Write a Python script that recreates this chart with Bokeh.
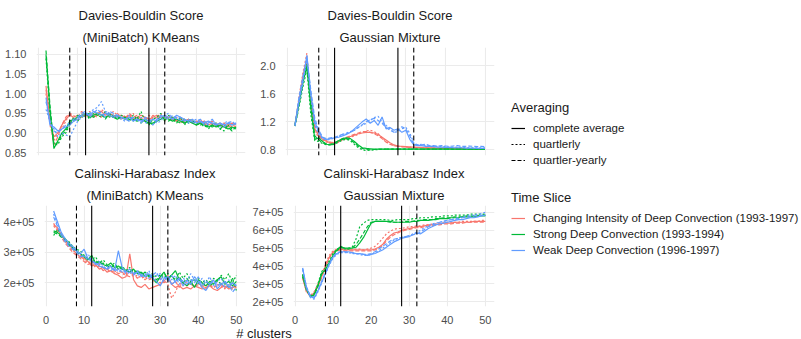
from bokeh.plotting import figure
from bokeh.models import Range1d, FixedTicker, Grid, Span, Title, Legend, LegendItem, Label
from bokeh.layouts import row, column
from bokeh.embed import file_html
from bokeh.resources import INLINE

# ---------------- data ----------------
clusters = list(range(2, 51))

time_slices = ["Changing Intensity of Deep Convection (1993-1997)",
               "Strong Deep Convection (1993-1994)",
               "Weak Deep Convection (1996-1997)"]
averagings = ["complete average", "quartlerly", "quartler-yearly"]

x_ticks = [0, 10, 20, 30, 40, 50]
x_tick_labels = ["0", "10", "20", "30", "40", "50"]
vline_solid = [12, 28]
vline_dashed = [8, 32]

# Davies-Bouldin Score, (MiniBatch) KMeans
db_km_chg_avg = [1.02, 0.93, 0.89, 0.90, 0.92, 0.935, 0.945, 0.94, 0.945, 0.94,
                 0.95, 0.945, 0.94, 0.95, 0.955, 0.945, 0.95, 0.945, 0.94, 0.945,
                 0.94, 0.945, 0.935, 0.94, 0.945, 0.94, 0.935, 0.94, 0.945, 0.94,
                 0.935, 0.94, 0.935, 0.93, 0.935, 0.93, 0.935, 0.925, 0.93, 0.925,
                 0.93, 0.92, 0.925, 0.92, 0.925, 0.915, 0.92, 0.925, 0.92]
db_km_chg_q = [1.00, 0.92, 0.88, 0.90, 0.91, 0.93, 0.95, 0.945, 0.93, 0.95,
               0.94, 0.955, 0.945, 0.94, 0.96, 0.95, 0.94, 0.955, 0.945, 0.935,
               0.945, 0.94, 0.95, 0.935, 0.94, 0.93, 0.945, 0.935, 0.94, 0.95,
               0.93, 0.945, 0.93, 0.94, 0.925, 0.935, 0.93, 0.935, 0.92, 0.93,
               0.925, 0.93, 0.92, 0.925, 0.915, 0.925, 0.92, 0.915, 0.925]
db_km_chg_qy = [1.01, 0.94, 0.87, 0.89, 0.92, 0.94, 0.95, 0.935, 0.94, 0.955,
                0.945, 0.94, 0.95, 0.945, 0.94, 0.955, 0.945, 0.94, 0.95, 0.94,
                0.935, 0.95, 0.94, 0.945, 0.935, 0.94, 0.93, 0.945, 0.94, 0.935,
                0.945, 0.935, 0.94, 0.93, 0.94, 0.925, 0.935, 0.93, 0.925, 0.935,
                0.92, 0.925, 0.93, 0.915, 0.92, 0.925, 0.915, 0.92, 0.915]
db_km_str_avg = [1.10, 0.96, 0.86, 0.88, 0.90, 0.91, 0.93, 0.935, 0.94, 0.945,
                 0.95, 0.94, 0.945, 0.95, 0.945, 0.94, 0.945, 0.94, 0.935, 0.94,
                 0.935, 0.94, 0.935, 0.93, 0.935, 0.93, 0.925, 0.925, 0.93, 0.935,
                 0.94, 0.935, 0.93, 0.935, 0.93, 0.925, 0.93, 0.925, 0.92, 0.925,
                 0.92, 0.915, 0.92, 0.915, 0.92, 0.915, 0.91, 0.915, 0.91]
db_km_str_q = [1.09, 0.95, 0.87, 0.87, 0.89, 0.90, 0.92, 0.94, 0.93, 0.945,
               0.95, 0.935, 0.95, 0.945, 0.94, 0.955, 0.94, 0.945, 0.935, 0.945,
               0.94, 0.93, 0.945, 0.935, 0.955, 0.93, 0.92, 0.935, 0.94, 0.95,
               0.93, 0.945, 0.935, 0.925, 0.94, 0.92, 0.935, 0.93, 0.925, 0.92,
               0.925, 0.91, 0.92, 0.925, 0.91, 0.905, 0.92, 0.91, 0.915]
db_km_str_qy = [1.11, 0.97, 0.87, 0.875, 0.895, 0.905, 0.925, 0.93, 0.945, 0.94,
                0.945, 0.95, 0.94, 0.945, 0.95, 0.935, 0.95, 0.94, 0.945, 0.935,
                0.94, 0.935, 0.93, 0.94, 0.925, 0.935, 0.93, 0.92, 0.935, 0.94,
                0.935, 0.93, 0.94, 0.93, 0.925, 0.935, 0.925, 0.93, 0.92, 0.925,
                0.915, 0.92, 0.915, 0.92, 0.91, 0.92, 0.915, 0.905, 0.915]
db_km_wk_avg = [0.99, 0.92, 0.915, 0.905, 0.91, 0.915, 0.92, 0.93, 0.935, 0.945,
                0.95, 0.945, 0.955, 0.95, 0.945, 0.95, 0.945, 0.94, 0.945, 0.94,
                0.935, 0.94, 0.93, 0.935, 0.93, 0.935, 0.93, 0.935, 0.93, 0.94,
                0.945, 0.94, 0.935, 0.945, 0.94, 0.935, 0.93, 0.935, 0.925, 0.93,
                0.925, 0.93, 0.925, 0.92, 0.925, 0.92, 0.925, 0.92, 0.925]
db_km_wk_q = [0.96, 0.93, 0.91, 0.89, 0.90, 0.895, 0.89, 0.91, 0.93, 0.94,
              0.945, 0.95, 0.96, 0.965, 0.98, 0.955, 0.95, 0.945, 0.94, 0.935,
              0.93, 0.945, 0.935, 0.93, 0.94, 0.925, 0.93, 0.935, 0.925, 0.93,
              0.945, 0.95, 0.935, 0.94, 0.93, 0.935, 0.925, 0.93, 0.935, 0.925,
              0.93, 0.92, 0.93, 0.925, 0.915, 0.925, 0.93, 0.92, 0.925]
db_km_wk_qy = [0.98, 0.93, 0.905, 0.90, 0.91, 0.92, 0.925, 0.935, 0.94, 0.95,
               0.955, 0.94, 0.95, 0.96, 0.95, 0.94, 0.955, 0.95, 0.945, 0.94,
               0.935, 0.93, 0.94, 0.935, 0.925, 0.94, 0.935, 0.92, 0.935, 0.945,
               0.94, 0.935, 0.945, 0.935, 0.94, 0.93, 0.935, 0.925, 0.93, 0.935,
               0.92, 0.925, 0.935, 0.92, 0.925, 0.915, 0.925, 0.93, 0.92]

# Davies-Bouldin Score, Gaussian Mixture
db_gm_chg_avg = [1.15, 1.50, 1.85, 2.10, 1.50, 1.10, 1.00, 0.95, 0.92, 0.90,
                 0.90, 0.92, 0.95, 0.97, 0.99, 1.01, 1.03, 1.04, 1.05, 1.05,
                 1.04, 1.02, 0.98, 0.94, 0.90, 0.87, 0.855, 0.85, 0.845, 0.84,
                 0.84, 0.835, 0.835, 0.83, 0.83, 0.83, 0.825, 0.825, 0.825, 0.82,
                 0.82, 0.82, 0.82, 0.82, 0.815, 0.815, 0.815, 0.815, 0.815]
db_gm_chg_q = [1.14, 1.55, 1.90, 2.18, 1.45, 1.05, 0.98, 0.94, 0.91, 0.89,
               0.88, 0.91, 0.94, 0.96, 0.98, 1.00, 1.02, 1.05, 1.07, 1.08,
               1.06, 1.03, 0.97, 0.92, 0.88, 0.86, 0.85, 0.845, 0.84, 0.84,
               0.835, 0.83, 0.83, 0.83, 0.825, 0.825, 0.82, 0.82, 0.82, 0.82,
               0.815, 0.815, 0.815, 0.815, 0.81, 0.81, 0.81, 0.81, 0.81]
db_gm_chg_qy = [1.16, 1.45, 1.80, 2.05, 1.55, 1.15, 1.02, 0.96, 0.93, 0.91,
                0.90, 0.93, 0.96, 0.98, 1.00, 1.02, 1.04, 1.06, 1.06, 1.05,
                1.03, 1.00, 0.96, 0.91, 0.88, 0.86, 0.85, 0.845, 0.84, 0.835,
                0.835, 0.83, 0.83, 0.825, 0.825, 0.825, 0.82, 0.82, 0.82, 0.82,
                0.82, 0.815, 0.815, 0.815, 0.815, 0.81, 0.81, 0.81, 0.81]
db_gm_str_avg = [1.15, 1.45, 1.75, 2.00, 1.40, 0.95, 0.97, 0.92, 0.88, 0.87,
                 0.89, 0.93, 0.96, 0.97, 0.96, 0.92, 0.87, 0.83, 0.82, 0.815,
                 0.81, 0.81, 0.81, 0.81, 0.81, 0.81, 0.81, 0.81, 0.81, 0.81,
                 0.81, 0.81, 0.81, 0.81, 0.81, 0.81, 0.81, 0.81, 0.81, 0.81,
                 0.81, 0.81, 0.81, 0.81, 0.81, 0.81, 0.81, 0.81, 0.81]
db_gm_str_q = [1.14, 1.40, 1.70, 1.95, 1.30, 0.93, 0.92, 0.89, 0.87, 0.87,
               0.88, 0.91, 0.94, 0.95, 0.93, 0.88, 0.83, 0.80, 0.79, 0.795,
               0.80, 0.805, 0.805, 0.81, 0.81, 0.81, 0.81, 0.81, 0.81, 0.81,
               0.81, 0.81, 0.81, 0.81, 0.81, 0.81, 0.81, 0.81, 0.81, 0.81,
               0.81, 0.81, 0.81, 0.81, 0.81, 0.81, 0.81, 0.81, 0.81]
db_gm_str_qy = [1.16, 1.48, 1.78, 2.02, 1.50, 1.00, 0.94, 0.90, 0.88, 0.88,
                0.90, 0.93, 0.95, 0.96, 0.94, 0.90, 0.85, 0.82, 0.805, 0.80,
                0.805, 0.81, 0.81, 0.81, 0.81, 0.81, 0.81, 0.81, 0.81, 0.81,
                0.81, 0.81, 0.81, 0.81, 0.81, 0.81, 0.81, 0.81, 0.81, 0.81,
                0.81, 0.81, 0.81, 0.81, 0.81, 0.81, 0.81, 0.81, 0.81]
db_gm_wk_avg = [1.15, 1.50, 1.80, 2.15, 1.60, 1.20, 1.05, 0.97, 0.95, 0.96,
                0.97, 0.98, 1.00, 1.02, 1.05, 1.10, 1.15, 1.20, 1.24, 1.18,
                1.22, 1.15, 1.27, 1.10, 1.12, 1.08, 1.10, 1.05, 1.08, 0.95,
                0.87, 0.86, 0.86, 0.85, 0.85, 0.845, 0.84, 0.84, 0.835, 0.835,
                0.83, 0.83, 0.83, 0.825, 0.825, 0.825, 0.82, 0.82, 0.82]
db_gm_wk_q = [1.14, 1.45, 1.75, 2.10, 1.55, 1.15, 1.02, 0.96, 0.94, 0.95,
              0.97, 0.99, 1.02, 1.04, 1.06, 1.08, 1.12, 1.15, 1.18, 1.22,
              1.26, 1.28, 1.20, 1.15, 1.10, 1.05, 1.06, 1.10, 1.12, 1.04,
              0.90, 0.87, 0.88, 0.86, 0.855, 0.85, 0.85, 0.845, 0.845, 0.84,
              0.84, 0.84, 0.835, 0.835, 0.83, 0.83, 0.83, 0.83, 0.83]
db_gm_wk_qy = [1.16, 1.55, 1.85, 2.12, 1.65, 1.25, 1.08, 0.98, 0.96, 0.97,
               0.98, 1.00, 1.02, 1.03, 1.05, 1.08, 1.12, 1.16, 1.20, 1.23,
               1.25, 1.22, 1.18, 1.12, 1.08, 1.05, 1.08, 1.13, 1.10, 1.00,
               0.88, 0.87, 0.87, 0.88, 0.86, 0.86, 0.85, 0.86, 0.855, 0.85,
               0.855, 0.86, 0.85, 0.85, 0.855, 0.85, 0.845, 0.85, 0.845]

# Calinski-Harabasz Index, (MiniBatch) KMeans
ch_km_chg_avg = [3.90e5, 3.80e5, 3.55e5, 3.40e5, 3.25e5, 3.10e5, 2.95e5, 2.85e5, 2.80e5, 2.70e5,
                 2.55e5, 2.60e5, 2.45e5, 2.50e5, 2.35e5, 2.40e5, 2.30e5, 2.25e5, 2.15e5, 2.20e5,
                 2.95e5, 2.10e5, 1.90e5, 1.85e5, 1.95e5, 1.80e5, 1.85e5, 1.90e5, 1.95e5, 2.05e5,
                 2.25e5, 1.95e5, 1.85e5, 1.90e5, 1.80e5, 1.85e5, 1.80e5, 1.90e5, 1.85e5, 1.80e5,
                 1.85e5, 1.90e5, 1.80e5, 1.75e5, 1.85e5, 1.90e5, 1.80e5, 1.85e5, 1.90e5]
ch_km_chg_q = [3.85e5, 3.75e5, 3.60e5, 3.35e5, 3.20e5, 3.05e5, 3.00e5, 2.90e5, 2.75e5, 2.65e5,
               2.70e5, 2.55e5, 2.60e5, 2.45e5, 2.50e5, 2.40e5, 2.35e5, 2.45e5, 2.30e5, 2.25e5,
               2.35e5, 2.20e5, 2.25e5, 2.15e5, 2.20e5, 2.10e5, 2.15e5, 2.05e5, 2.00e5, 2.10e5,
               1.95e5, 1.50e5, 1.70e5, 2.00e5, 1.90e5, 2.05e5, 1.95e5, 1.90e5, 2.00e5, 1.85e5,
               1.95e5, 1.90e5, 1.85e5, 1.95e5, 1.90e5, 1.80e5, 1.95e5, 1.85e5, 1.90e5]
ch_km_chg_qy = [3.95e5, 3.70e5, 3.50e5, 3.30e5, 3.15e5, 3.00e5, 2.90e5, 2.80e5, 2.70e5, 2.60e5,
                2.65e5, 2.50e5, 2.55e5, 2.40e5, 2.45e5, 2.35e5, 2.40e5, 2.30e5, 2.35e5, 2.25e5,
                2.20e5, 2.30e5, 2.15e5, 2.25e5, 2.10e5, 2.20e5, 2.05e5, 2.10e5, 2.15e5, 2.00e5,
                2.10e5, 1.95e5, 2.05e5, 1.85e5, 2.00e5, 1.90e5, 2.00e5, 1.85e5, 1.95e5, 1.90e5,
                1.80e5, 1.95e5, 1.85e5, 1.90e5, 1.95e5, 1.85e5, 1.90e5, 1.80e5, 1.85e5]
ch_km_str_avg = [3.70e5, 3.65e5, 3.55e5, 3.45e5, 3.30e5, 3.15e5, 3.05e5, 2.95e5, 2.85e5, 2.75e5,
                 2.90e5, 2.65e5, 2.70e5, 2.60e5, 2.55e5, 2.65e5, 2.50e5, 2.55e5, 2.45e5, 2.40e5,
                 2.35e5, 2.45e5, 2.30e5, 2.35e5, 2.20e5, 2.25e5, 2.15e5, 2.00e5, 2.20e5, 2.35e5,
                 2.10e5, 2.25e5, 2.40e5, 2.10e5, 2.00e5, 1.90e5, 2.05e5, 1.85e5, 2.10e5, 2.00e5,
                 1.90e5, 2.05e5, 1.95e5, 2.10e5, 2.20e5, 1.95e5, 2.05e5, 1.90e5, 2.05e5]
ch_km_str_q = [3.55e5, 3.75e5, 3.60e5, 3.40e5, 3.35e5, 3.20e5, 3.10e5, 3.05e5, 2.90e5, 2.80e5,
               2.75e5, 2.85e5, 2.65e5, 2.75e5, 2.60e5, 2.55e5, 2.65e5, 2.45e5, 2.55e5, 2.40e5,
               2.50e5, 2.35e5, 2.40e5, 2.30e5, 2.35e5, 2.25e5, 2.30e5, 2.20e5, 2.25e5, 2.15e5,
               2.30e5, 2.20e5, 2.10e5, 2.35e5, 2.15e5, 2.30e5, 2.10e5, 2.05e5, 2.15e5, 2.00e5,
               2.10e5, 1.95e5, 2.15e5, 2.05e5, 2.25e5, 2.10e5, 2.30e5, 2.00e5, 2.25e5]
ch_km_str_qy = [3.65e5, 3.60e5, 3.50e5, 3.40e5, 3.25e5, 3.15e5, 3.00e5, 2.95e5, 2.85e5, 2.80e5,
                2.70e5, 2.75e5, 2.60e5, 2.65e5, 2.55e5, 2.50e5, 2.60e5, 2.45e5, 2.50e5, 2.40e5,
                2.45e5, 2.30e5, 2.40e5, 2.25e5, 2.35e5, 2.20e5, 2.25e5, 2.10e5, 2.20e5, 2.30e5,
                2.15e5, 2.25e5, 2.05e5, 2.20e5, 2.00e5, 2.15e5, 1.95e5, 2.10e5, 2.00e5, 1.90e5,
                2.05e5, 1.90e5, 2.00e5, 2.10e5, 1.95e5, 2.05e5, 1.85e5, 2.15e5, 1.75e5]
ch_km_wk_avg = [4.35e5, 4.00e5, 3.65e5, 3.45e5, 3.30e5, 3.20e5, 3.05e5, 2.95e5, 3.10e5, 2.80e5,
                2.70e5, 2.65e5, 2.55e5, 2.50e5, 2.45e5, 2.55e5, 2.40e5, 3.05e5, 2.50e5, 2.35e5,
                2.45e5, 2.30e5, 2.35e5, 2.25e5, 2.20e5, 2.30e5, 2.15e5, 2.05e5, 1.90e5, 2.15e5,
                2.20e5, 1.95e5, 2.05e5, 2.15e5, 1.90e5, 2.10e5, 1.95e5, 2.20e5, 2.05e5, 1.85e5,
                1.75e5, 1.95e5, 2.10e5, 1.80e5, 1.95e5, 2.05e5, 1.85e5, 2.00e5, 1.90e5]
ch_km_wk_q = [4.25e5, 3.90e5, 3.60e5, 3.40e5, 3.25e5, 3.15e5, 3.05e5, 2.95e5, 2.85e5, 2.95e5,
              2.75e5, 2.60e5, 2.70e5, 2.55e5, 2.45e5, 2.50e5, 2.40e5, 2.45e5, 2.35e5, 2.40e5,
              2.30e5, 2.35e5, 2.25e5, 2.30e5, 2.20e5, 2.40e5, 2.15e5, 2.25e5, 2.30e5, 2.05e5,
              2.20e5, 2.10e5, 2.25e5, 1.95e5, 2.15e5, 2.05e5, 2.30e5, 2.10e5, 1.95e5, 2.15e5,
              2.00e5, 2.20e5, 1.90e5, 2.05e5, 2.15e5, 1.95e5, 2.10e5, 1.85e5, 1.95e5]
ch_km_wk_qy = [4.15e5, 3.85e5, 3.55e5, 3.35e5, 3.20e5, 3.10e5, 3.00e5, 2.85e5, 2.90e5, 2.75e5,
               2.80e5, 2.60e5, 2.65e5, 2.50e5, 2.55e5, 2.40e5, 2.50e5, 2.35e5, 2.45e5, 2.30e5,
               2.35e5, 2.25e5, 2.40e5, 2.20e5, 2.30e5, 2.15e5, 2.25e5, 2.35e5, 2.10e5, 2.20e5,
               2.05e5, 2.25e5, 2.00e5, 2.15e5, 2.05e5, 1.95e5, 2.10e5, 2.00e5, 2.20e5, 1.90e5,
               2.05e5, 1.95e5, 2.10e5, 1.90e5, 2.00e5, 1.85e5, 1.95e5, 1.70e5, 1.85e5]

# Calinski-Harabasz Index, Gaussian Mixture
ch_gm_chg_avg = [3.40e5, 2.60e5, 2.30e5, 2.50e5, 2.90e5, 3.40e5, 4.00e5, 4.50e5, 4.80e5, 4.90e5,
                 4.95e5, 4.90e5, 4.90e5, 4.90e5, 4.90e5, 4.90e5, 4.90e5, 4.90e5, 4.90e5, 4.95e5,
                 5.05e5, 5.20e5, 5.50e5, 5.70e5, 5.85e5, 5.90e5, 6.00e5, 6.05e5, 6.10e5, 6.15e5,
                 6.20e5, 6.20e5, 6.25e5, 6.30e5, 6.30e5, 6.35e5, 6.35e5, 6.40e5, 6.40e5, 6.40e5,
                 6.45e5, 6.45e5, 6.45e5, 6.45e5, 6.45e5, 6.50e5, 6.50e5, 6.50e5, 6.50e5]
ch_gm_chg_q = [3.30e5, 2.55e5, 2.35e5, 2.55e5, 3.00e5, 3.50e5, 4.10e5, 4.60e5, 4.85e5, 4.95e5,
               5.00e5, 4.95e5, 4.95e5, 4.95e5, 4.95e5, 4.95e5, 4.90e5, 4.95e5, 5.00e5, 5.10e5,
               5.30e5, 5.55e5, 5.80e5, 5.95e5, 6.05e5, 6.10e5, 6.10e5, 6.15e5, 6.20e5, 6.20e5,
               6.25e5, 6.25e5, 6.30e5, 6.30e5, 6.35e5, 6.35e5, 6.40e5, 6.40e5, 6.45e5, 6.45e5,
               6.45e5, 6.45e5, 6.50e5, 6.50e5, 6.50e5, 6.50e5, 6.50e5, 6.55e5, 6.55e5]
ch_gm_chg_qy = [3.50e5, 2.65e5, 2.30e5, 2.45e5, 2.85e5, 3.35e5, 3.95e5, 4.45e5, 4.75e5, 4.85e5,
                4.90e5, 4.85e5, 4.85e5, 4.85e5, 4.85e5, 4.85e5, 4.85e5, 4.85e5, 4.85e5, 4.90e5,
                5.00e5, 5.15e5, 5.40e5, 5.60e5, 5.75e5, 5.85e5, 5.95e5, 6.00e5, 6.05e5, 6.10e5,
                6.15e5, 6.15e5, 6.20e5, 6.25e5, 6.25e5, 6.30e5, 6.30e5, 6.35e5, 6.35e5, 6.35e5,
                6.40e5, 6.40e5, 6.40e5, 6.45e5, 6.45e5, 6.45e5, 6.45e5, 6.45e5, 6.45e5]
ch_gm_str_avg = [3.50e5, 2.70e5, 2.30e5, 2.40e5, 2.90e5, 3.60e5, 3.80e5, 4.20e5, 4.60e5, 4.90e5,
                 5.10e5, 5.00e5, 5.00e5, 5.00e5, 5.05e5, 5.30e5, 5.60e5, 6.00e5, 6.40e5, 6.50e5,
                 6.50e5, 6.50e5, 6.50e5, 6.50e5, 6.45e5, 6.45e5, 6.45e5, 6.45e5, 6.45e5, 6.50e5,
                 6.50e5, 6.55e5, 6.55e5, 6.55e5, 6.60e5, 6.60e5, 6.65e5, 6.65e5, 6.65e5, 6.70e5,
                 6.70e5, 6.70e5, 6.75e5, 6.75e5, 6.75e5, 6.75e5, 6.80e5, 6.80e5, 6.80e5]
ch_gm_str_q = [3.40e5, 2.65e5, 2.35e5, 2.45e5, 3.00e5, 3.70e5, 3.90e5, 4.30e5, 4.70e5, 4.95e5,
               5.05e5, 4.95e5, 5.00e5, 5.05e5, 5.50e5, 6.20e5, 6.40e5, 6.55e5, 6.60e5, 6.60e5,
               6.60e5, 6.60e5, 6.60e5, 6.55e5, 6.55e5, 6.60e5, 6.60e5, 6.60e5, 6.60e5, 6.65e5,
               6.65e5, 6.70e5, 6.70e5, 6.70e5, 6.75e5, 6.75e5, 6.75e5, 6.80e5, 6.80e5, 6.80e5,
               6.85e5, 6.85e5, 6.85e5, 6.85e5, 6.90e5, 6.90e5, 6.90e5, 6.90e5, 6.90e5]
ch_gm_str_qy = [3.55e5, 2.75e5, 2.30e5, 2.35e5, 2.85e5, 3.55e5, 3.75e5, 4.15e5, 4.55e5, 4.85e5,
                5.05e5, 5.00e5, 4.95e5, 5.00e5, 5.20e5, 5.50e5, 5.85e5, 6.20e5, 6.45e5, 6.50e5,
                6.50e5, 6.50e5, 6.50e5, 6.45e5, 6.45e5, 6.45e5, 6.45e5, 6.50e5, 6.50e5, 6.50e5,
                6.55e5, 6.55e5, 6.60e5, 6.60e5, 6.60e5, 6.65e5, 6.65e5, 6.70e5, 6.70e5, 6.70e5,
                6.75e5, 6.75e5, 6.75e5, 6.80e5, 6.80e5, 6.80e5, 6.80e5, 6.85e5, 6.85e5]
ch_gm_wk_avg = [3.90e5, 2.80e5, 2.30e5, 2.20e5, 2.60e5, 3.10e5, 3.60e5, 4.10e5, 4.50e5, 4.70e5,
                4.80e5, 4.80e5, 4.80e5, 4.75e5, 4.70e5, 4.70e5, 4.65e5, 4.60e5, 4.65e5, 4.70e5,
                4.80e5, 4.90e5, 5.05e5, 5.20e5, 5.35e5, 5.45e5, 5.55e5, 5.60e5, 5.65e5, 5.75e5,
                5.85e5, 5.80e5, 5.95e5, 6.10e5, 6.20e5, 6.30e5, 6.35e5, 6.40e5, 6.45e5, 6.50e5,
                6.55e5, 6.60e5, 6.60e5, 6.65e5, 6.70e5, 6.70e5, 6.75e5, 6.80e5, 6.85e5]
ch_gm_wk_q = [3.80e5, 2.75e5, 2.25e5, 2.15e5, 2.55e5, 3.05e5, 3.55e5, 4.05e5, 4.45e5, 4.65e5,
              4.75e5, 4.75e5, 4.75e5, 4.70e5, 4.70e5, 4.65e5, 4.60e5, 4.60e5, 4.65e5, 4.75e5,
              4.85e5, 5.00e5, 5.15e5, 5.30e5, 5.45e5, 5.55e5, 5.60e5, 5.65e5, 5.70e5, 5.80e5,
              5.90e5, 6.00e5, 6.15e5, 6.25e5, 6.35e5, 6.40e5, 6.45e5, 6.50e5, 6.55e5, 6.60e5,
              6.65e5, 6.70e5, 6.75e5, 6.80e5, 6.85e5, 6.85e5, 6.90e5, 6.95e5, 7.00e5]
ch_gm_wk_qy = [3.85e5, 2.85e5, 2.35e5, 2.25e5, 2.65e5, 3.15e5, 3.65e5, 4.15e5, 4.55e5, 4.75e5,
               4.80e5, 4.80e5, 4.75e5, 4.75e5, 4.70e5, 4.70e5, 4.65e5, 4.65e5, 4.70e5, 4.80e5,
               4.95e5, 5.10e5, 5.25e5, 5.40e5, 5.50e5, 5.55e5, 5.60e5, 5.65e5, 5.70e5, 5.75e5,
               5.80e5, 5.90e5, 6.05e5, 6.20e5, 6.30e5, 6.35e5, 6.45e5, 6.50e5, 6.55e5, 6.60e5,
               6.60e5, 6.65e5, 6.70e5, 6.75e5, 6.75e5, 6.80e5, 6.80e5, 6.85e5, 6.85e5]

db_km_ticks = [0.85, 0.90, 0.95, 1.00, 1.05, 1.10]
db_km_tick_labels = ["0.85", "0.90", "0.95", "1.00", "1.05", "1.10"]
db_gm_ticks = [0.8, 1.2, 1.6, 2.0]
db_gm_tick_labels = ["0.8", "1.2", "1.6", "2.0"]
ch_km_ticks = [2e5, 3e5, 4e5]
ch_km_tick_labels = ["2e+05", "3e+05", "4e+05"]
ch_gm_ticks = [2e5, 3e5, 4e5, 5e5, 6e5, 7e5]
ch_gm_tick_labels = ["2e+05", "3e+05", "4e+05", "5e+05", "6e+05", "7e+05"]

# ---------------- style ----------------
FONT = "Liberation Sans"
slice_colors = ["#F8766D", "#00BA38", "#619CFF"]
avg_dashes = ["solid", "2 2", "4 2"]
GRID = "#EBEBEB"
X_RANGE = (-0.4, 52.4)


def make_panel(metric, method, series, y_range, yticks, ylabels, show_x,
               width, height, mb_left, mb_right, mb_top, mb_bottom):
    p = figure(width=width, height=height, title=None,
               x_range=Range1d(*X_RANGE), y_range=Range1d(*y_range),
               x_axis_location="below" if show_x else None,
               output_backend="svg", toolbar_location=None,
               min_border_left=mb_left, min_border_right=mb_right,
               min_border_top=mb_top, min_border_bottom=mb_bottom,
               outline_line_color=None)
    p.grid.visible = False
    p.add_layout(Grid(dimension=0, ticker=FixedTicker(ticks=x_ticks),
                      grid_line_color=GRID, grid_line_width=1.1))
    p.add_layout(Grid(dimension=1, ticker=FixedTicker(ticks=yticks),
                      grid_line_color=GRID, grid_line_width=1.1))
    for ax in p.yaxis:
        ax.ticker = FixedTicker(ticks=yticks)
        ax.major_label_overrides = dict(zip(yticks, ylabels))
    axes = list(p.yaxis) + (list(p.xaxis) if show_x else [])
    for ax in axes:
        ax.axis_line_color = None
        ax.major_tick_line_color = None
        ax.minor_tick_line_color = None
        ax.major_label_text_font = FONT
        ax.major_label_text_font_size = "11px"
        ax.major_label_text_color = "#4D4D4D"
        ax.major_label_standoff = 4
    if show_x:
        for ax in p.xaxis:
            ax.ticker = FixedTicker(ticks=x_ticks)
            ax.major_label_overrides = dict(zip(x_ticks, x_tick_labels))
            ax.major_label_standoff = 3

    for loc in vline_dashed:
        p.add_layout(Span(location=loc, dimension="height", line_color="black",
                          line_width=1.1, line_dash="5 3"))
    for loc in vline_solid:
        p.add_layout(Span(location=loc, dimension="height", line_color="black",
                          line_width=1.1))

    for color, group in zip(slice_colors, series):
        for dash, ys in zip(avg_dashes, group):
            p.line(x=clusters, y=ys, line_color=color, line_dash=dash, line_width=1.2)

    p.add_layout(Title(text=method, align="center", text_font=FONT,
                       text_font_size="13px", text_font_style="normal",
                       text_color="#1A1A1A", standoff=6), "above")
    p.add_layout(Title(text=metric, align="center", text_font=FONT,
                       text_font_size="13px", text_font_style="normal",
                       text_color="#1A1A1A", standoff=4), "above")
    return p


p_db_km = make_panel("Davies-Bouldin Score", "(MiniBatch) KMeans",
                     [[db_km_chg_avg, db_km_chg_q, db_km_chg_qy],
                      [db_km_str_avg, db_km_str_q, db_km_str_qy],
                      [db_km_wk_avg, db_km_wk_q, db_km_wk_qy]],
                     (0.8424, 1.1178), db_km_ticks, db_km_tick_labels, False,
                     249, 161, 36, 4, 47, 6)
p_db_gm = make_panel("Davies-Bouldin Score", "Gaussian Mixture",
                     [[db_gm_chg_avg, db_gm_chg_q, db_gm_chg_qy],
                      [db_gm_str_avg, db_gm_str_q, db_gm_str_qy],
                      [db_gm_wk_avg, db_gm_wk_q, db_gm_wk_qy]],
                     (0.719, 2.262), db_gm_ticks, db_gm_tick_labels, False,
                     251, 161, 36, 6, 47, 6)
p_ch_km = make_panel("Calinski-Harabasz Index", "(MiniBatch) KMeans",
                     [[ch_km_chg_avg, ch_km_chg_q, ch_km_chg_qy],
                      [ch_km_str_avg, ch_km_str_q, ch_km_str_qy],
                      [ch_km_wk_avg, ch_km_wk_q, ch_km_wk_qy]],
                     (1.226e5, 4.530e5), ch_km_ticks, ch_km_tick_labels, True,
                     249, 165, 36, 4, 42, 15)
p_ch_gm = make_panel("Calinski-Harabasz Index", "Gaussian Mixture",
                     [[ch_gm_chg_avg, ch_gm_chg_q, ch_gm_chg_qy],
                      [ch_gm_str_avg, ch_gm_str_q, ch_gm_str_qy],
                      [ch_gm_wk_avg, ch_gm_wk_q, ch_gm_wk_qy]],
                     (1.74e5, 7.385e5), ch_gm_ticks, ch_gm_tick_labels, True,
                     251, 165, 36, 6, 42, 15)

# shared x-axis title strip
p_xlab = figure(width=500, height=13, x_range=Range1d(0, 500), y_range=Range1d(0, 13),
                x_axis_location=None, y_axis_location=None, title=None,
                output_backend="svg", toolbar_location=None, min_border=0,
                outline_line_color=None)
p_xlab.grid.visible = False
p_xlab.add_layout(Label(x=263.5, y=6.5, text="# clusters", text_align="center",
                        text_baseline="middle", text_font=FONT, text_font_size="13px",
                        text_color="#1A1A1A"))

# legend panel (legend keys use invisible placeholder renderers)
p_leg = figure(width=301, height=339, x_range=Range1d(0, 1), y_range=Range1d(0, 1),
               x_axis_location=None, y_axis_location=None, title=None,
               output_backend="svg", toolbar_location=None, min_border=0,
               outline_line_color=None)
p_leg.grid.visible = False
NAN = float("nan")

avg_items = []
for lab, dash in zip(averagings, avg_dashes):
    r = p_leg.line(x=[NAN], y=[NAN], line_color="black", line_dash=dash, line_width=1.2)
    avg_items.append(LegendItem(label=lab, renderers=[r]))
slice_items = []
for lab, color in zip(time_slices, slice_colors):
    r = p_leg.line(x=[NAN], y=[NAN], line_color=color, line_width=1.2)
    slice_items.append(LegendItem(label=lab, renderers=[r]))


def make_legend(items, title, loc):
    return Legend(items=items, title=title, location=loc, orientation="vertical",
                  padding=0, margin=0, spacing=0, border_line_color=None,
                  background_fill_alpha=0, glyph_width=14, glyph_height=16,
                  label_height=16, label_standoff=8,
                  label_text_font=FONT, label_text_font_size="11.5px",
                  label_text_color="#1A1A1A",
                  title_text_font=FONT, title_text_font_size="13px",
                  title_text_font_style="normal", title_text_color="#1A1A1A",
                  title_standoff=5)


p_leg.add_layout(make_legend(avg_items, "Averaging", (11, 171)))
p_leg.add_layout(make_legend(slice_items, "Time Slice", (11, 81)))

left = column(row(p_db_km, p_db_gm), row(p_ch_km, p_ch_gm), p_xlab)
layout = row(left, p_leg)

open("out.html", "w").write(file_html(layout, INLINE))
